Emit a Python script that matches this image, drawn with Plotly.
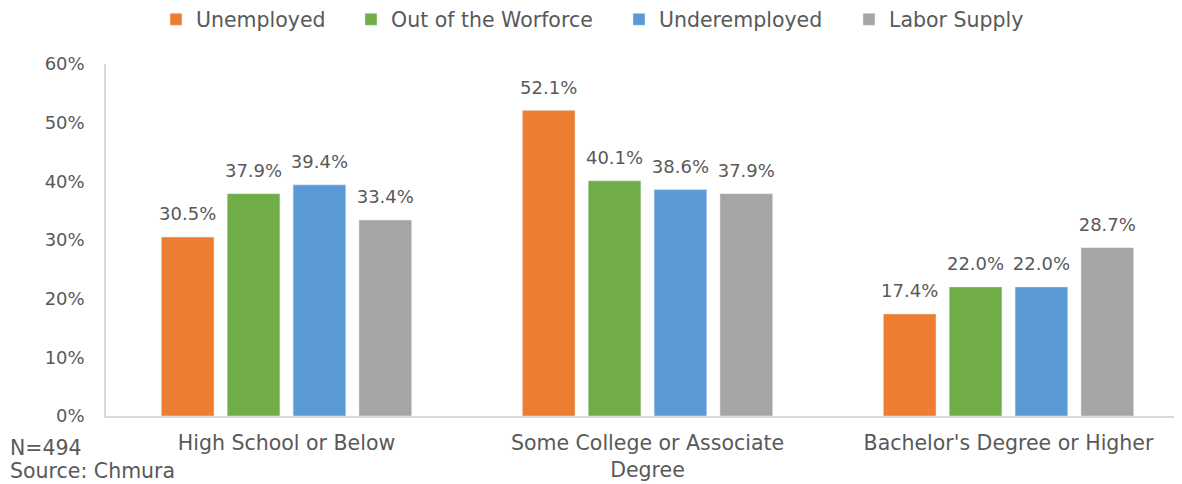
import plotly.graph_objects as go

categories = ["High School or Below", "Some College or Associate<br>Degree", "Bachelor's Degree or Higher"]
series_names = ["Unemployed", "Out of the Worforce", "Underemployed", "Labor Supply"]
unemployed = [30.5, 52.1, 17.4]
out_of_workforce = [37.9, 40.1, 22.0]
underemployed = [39.4, 38.6, 22.0]
labor_supply = [33.4, 37.9, 28.7]
colors = ["#ED7D31", "#70AD47", "#5B9BD5", "#A5A5A5"]
tick_vals = [0, 10, 20, 30, 40, 50, 60]
tick_text = ["0%", "10%", "20%", "30%", "40%", "50%", "60%"]

font_family = "'DejaVu Sans', sans-serif"
text_color = "#595959"
FS_NUM = 18
FS_TXT = 20.5

# page body has an 8px margin; figure coordinates = screen coordinates - 8
W, H = 1182, 476
ML, MT = 98, 56
PLOT_W, PLOT_H = 1083, 352
MR = W - ML - PLOT_W
MB = H - MT - PLOT_H
BARGAP = 0.27

legend_left_px = [148, 343, 611, 841]
legend_ids = ["legend", "legend2", "legend3", "legend4"]

fig = go.Figure()
all_vals = [unemployed, out_of_workforce, underemployed, labor_supply]
for name, vals, col, lid in zip(series_names, all_vals, colors, legend_ids):
    fig.add_trace(go.Bar(
        x=categories, y=vals, name=name, marker_color=col,
        legend=lid, hoverinfo="skip",
    ))
# value labels: invisible grouped markers carrying the text
for name, vals, col in zip(series_names, all_vals, colors):
    fig.add_trace(go.Scatter(
        x=categories, y=vals, mode="markers+text", showlegend=False,
        marker=dict(size=18, opacity=0, color=col),
        text=[f"{v:.1f}%" for v in vals], textposition="top center",
        textfont=dict(size=FS_NUM, color=text_color, family=font_family),
        cliponaxis=False, hoverinfo="skip",
    ))

legend_common = dict(orientation="h", xref="container", xanchor="left",
                     y=1 - 11.5 / H, yref="container", yanchor="middle",
                     font=dict(size=FS_TXT, color=text_color, family=font_family),
                     itemwidth=30, bgcolor="rgba(0,0,0,0)", borderwidth=0)
legend_layout = {}
for lid, lx in zip(legend_ids, legend_left_px):
    legend_layout[lid] = dict(x=lx / W, **legend_common)

fig.update_layout(
    width=W, height=H,
    margin=dict(l=ML, r=MR, t=MT, b=MB, autoexpand=False),
    paper_bgcolor="white", plot_bgcolor="white",
    barmode="group", bargap=BARGAP, bargroupgap=0.2,
    scattermode="group", scattergap=BARGAP,
    font=dict(family=font_family, size=FS_NUM, color=text_color),
    showlegend=True,
    **legend_layout,
)
fig.add_annotation(text="N=494", x=(0 - ML) / PLOT_W, y=-(440 - (MT + PLOT_H)) / PLOT_H, xref="paper", yref="paper",
                   xanchor="left", yanchor="middle", showarrow=False, font=dict(size=FS_TXT, color=text_color))
fig.add_annotation(text="Source: Chmura", x=(0 - ML) / PLOT_W, y=-(463 - (MT + PLOT_H)) / PLOT_H, xref="paper", yref="paper",
                   xanchor="left", yanchor="middle", showarrow=False, font=dict(size=FS_TXT, color=text_color))

fig.update_yaxes(range=[0, 60], tickvals=tick_vals, ticktext=tick_text, showgrid=False,
                 showline=True, linecolor="#D9D9D9", linewidth=1.5, ticks="", zeroline=False,
                 ticklabelstandoff=16, tickfont=dict(size=FS_NUM, color=text_color))
fig.update_xaxes(showline=True, linecolor="#D9D9D9", linewidth=1.5, ticks="", showgrid=False,
                 ticklabelstandoff=8, tickfont=dict(size=FS_TXT, color=text_color))

fig.write_html("out.html")
